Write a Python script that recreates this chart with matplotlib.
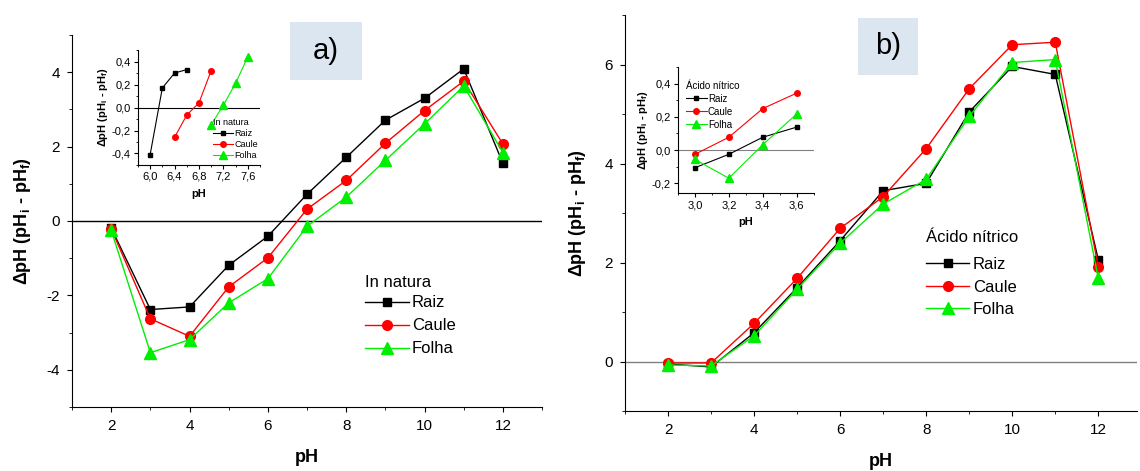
import matplotlib
matplotlib.use("Agg")
import matplotlib.pyplot as plt
from matplotlib.ticker import MultipleLocator, FuncFormatter
from matplotlib.patches import Rectangle

plt.rcParams['font.family'] = ['Liberation Sans', 'DejaVu Sans']
plt.rcParams['axes.unicode_minus'] = False
plt.rcParams['mathtext.fontset'] = 'custom'
plt.rcParams['mathtext.rm'] = 'Liberation Sans:bold'
plt.rcParams['mathtext.bf'] = 'Liberation Sans:bold'
plt.rcParams['mathtext.it'] = 'Liberation Sans:bold'
plt.rcParams['mathtext.default'] = 'bf'

# ---- data: panel a (In natura) ----
ph_main = [2, 3, 4, 5, 6, 7, 8, 9, 10, 11, 12]
a_raiz = [-0.19, -2.38, -2.31, -1.19, -0.41, 0.72, 1.71, 2.71, 3.30, 4.09, 1.55]
a_caule = [-0.21, -2.63, -3.10, -1.77, -0.99, 0.32, 1.09, 2.09, 2.97, 3.76, 2.07]
a_folha = [-0.25, -3.54, -3.19, -2.20, -1.55, -0.14, 0.64, 1.63, 2.61, 3.63, 1.84]

# inset a
ia_raiz_x = [6.0, 6.2, 6.4, 6.6]
ia_raiz_y = [-0.41, 0.17, 0.30, 0.33]
ia_caule_x = [6.4, 6.6, 6.8, 7.0]
ia_caule_y = [-0.26, -0.066, 0.04, 0.32]
ia_folha_x = [7.0, 7.2, 7.4, 7.6]
ia_folha_y = [-0.15, 0.02, 0.21, 0.44]

# ---- data: panel b (Ácido nítrico) ----
b_raiz = [-0.05, -0.11, 0.58, 1.49, 2.44, 3.45, 3.60, 5.04, 5.96, 5.80, 2.06]
b_caule = [-0.03, -0.03, 0.77, 1.68, 2.69, 3.33, 4.30, 5.51, 6.40, 6.45, 1.91]
b_folha = [-0.07, -0.09, 0.52, 1.46, 2.39, 3.18, 3.68, 4.95, 6.04, 6.10, 1.68]

# inset b
ib_x = [3.0, 3.2, 3.4, 3.6]
ib_raiz = [-0.107, -0.026, 0.077, 0.138]
ib_caule = [-0.026, 0.077, 0.25, 0.343]
ib_folha = [-0.057, -0.17, 0.032, 0.217]

series_names = ['Raiz', 'Caule', 'Folha']
colors = ['black', '#ff0000', '#00ee00']
markers = ['s', 'o', '^']
msizes = [6, 7, 8]

ylabel = r'$\Delta$pH (pH$_i$ - pH$_f$)'

fig = plt.figure(figsize=(11.4, 4.71), dpi=100)

comma = FuncFormatter(lambda v, p: ('%.1f' % v).replace('.', ','))


def style_main(ax, lp):
    ax.patch.set_alpha(0)
    for s in ['top', 'right']:
        ax.spines[s].set_visible(False)
    ax.tick_params(which='major', direction='out', length=3.5, labelsize=11, pad=5)
    ax.tick_params(which='minor', direction='out', length=2.5)
    ax.xaxis.set_major_locator(MultipleLocator(2))
    ax.xaxis.set_minor_locator(MultipleLocator(1))
    ax.yaxis.set_major_locator(MultipleLocator(2))
    ax.yaxis.set_minor_locator(MultipleLocator(1))
    ax.set_xlabel('pH', fontsize=13, fontweight='bold', labelpad=12)
    ax.set_ylabel(ylabel, fontsize=13, fontweight='bold', labelpad=lp)


def style_inset(ax):
    for s in ['top', 'right']:
        ax.spines[s].set_visible(False)
    ax.tick_params(which='major', direction='out', length=3, labelsize=8, pad=2)
    ax.tick_params(which='minor', direction='out', length=1.5)
    ax.xaxis.set_major_formatter(comma)
    ax.yaxis.set_major_formatter(comma)
    ax.set_xlabel('pH', fontsize=8, fontweight='bold', labelpad=5)
    ax.set_ylabel(ylabel, fontsize=8, fontweight='bold', labelpad=1)


def label_box(txt, x, y, w, h):
    r = Rectangle((x, y), w, h, transform=fig.transFigure, facecolor='#dce6f0',
                  edgecolor='none', zorder=5)
    fig.add_artist(r)
    fig.text(x + w / 2, y + h / 2, txt, fontsize=21, ha='center', va='center', zorder=6)


# ---------- Panel a ----------
axa = fig.add_axes([0.0632, 0.1359, 0.4123, 0.7898])
for ys, n, c, m, ms in zip([a_raiz, a_caule, a_folha], series_names, colors, markers, msizes):
    axa.plot(ph_main, ys, color=c, marker=m, markersize=ms, lw=1, label=n)
axa.axhline(0, color='black', lw=1, zorder=0)
axa.set_xlim(1, 13)
axa.set_ylim(-5, 5)
style_main(axa, 10)
leg = axa.legend(title='In natura', loc='upper left', bbox_to_anchor=(0.61, 0.373),
                 frameon=False, fontsize=12, title_fontsize=12, handlelength=2.6,
                 borderaxespad=0, labelspacing=0.48, handletextpad=0.2)
leg._legend_box.align = 'left'
leg._legend_box.sep = 4

ina = fig.add_axes([0.121, 0.6497, 0.107, 0.244])
for xs, ys, n, c, m, ms in zip([ia_raiz_x, ia_caule_x, ia_folha_x],
                               [ia_raiz_y, ia_caule_y, ia_folha_y],
                               series_names, colors, markers, [3.5, 4, 6]):
    ina.plot(xs, ys, color=c, marker=m, markersize=ms, lw=0.8, label=n)
ina.axhline(0, color='black', lw=0.8, zorder=0)
ina.set_xlim(5.8, 7.8)
ina.set_ylim(-0.5, 0.5)
ina.xaxis.set_major_locator(MultipleLocator(0.4))
ina.xaxis.set_minor_locator(MultipleLocator(0.2))
ina.yaxis.set_major_locator(MultipleLocator(0.2))
ina.yaxis.set_minor_locator(MultipleLocator(0.1))
style_inset(ina)
lg = ina.legend(title='In natura', loc='lower right', frameon=False, fontsize=6.5,
                title_fontsize=6.5, handlelength=2.2, borderaxespad=0.1,
                labelspacing=0.25, handletextpad=0.1, bbox_to_anchor=(1.02, 0.0))
lg._legend_box.align = 'left'

label_box('a)', 290 / 1140, 1 - 80 / 471, 72 / 1140, 58 / 471)

# ---------- Panel b ----------
axb = fig.add_axes([625 / 1140, 1 - 411 / 471, 512 / 1140, 396 / 471])
for ys, n, c, m, ms in zip([b_raiz, b_caule, b_folha], series_names, colors, markers, msizes):
    axb.plot(ph_main, ys, color=c, marker=m, markersize=ms, lw=1, label=n)
axb.axhline(0, color='#808080', lw=1, zorder=0)
axb.set_xlim(1, 12.9)
axb.set_ylim(-1, 7)
style_main(axb, 12)
leg = axb.legend(title='Ácido nítrico', loc='upper left', bbox_to_anchor=(0.575, 0.475),
                 frameon=False, fontsize=12, title_fontsize=12, handlelength=2.6,
                 borderaxespad=0, labelspacing=0.45, handletextpad=0.2)
leg._legend_box.align = 'left'
leg._legend_box.sep = 9

inb = fig.add_axes([0.5947, 0.590, 0.119, 0.2675])
for ys, n, c, m, ms in zip([ib_raiz, ib_caule, ib_folha], series_names, colors, markers, [3.5, 4, 6]):
    inb.plot(ib_x, ys, color=c, marker=m, markersize=ms, lw=0.8, label=n)
inb.axhline(0, color='#808080', lw=0.8, zorder=0)
inb.set_xlim(2.9, 3.7)
inb.set_ylim(-0.26, 0.5)
inb.xaxis.set_major_locator(MultipleLocator(0.2))
inb.xaxis.set_minor_locator(MultipleLocator(0.1))
inb.yaxis.set_major_locator(MultipleLocator(0.2))
inb.yaxis.set_minor_locator(MultipleLocator(0.1))
style_inset(inb)
lg = inb.legend(title='Ácido nítrico', loc='upper left', frameon=False, fontsize=7,
                title_fontsize=7, handlelength=2.2, borderaxespad=0.1,
                labelspacing=0.3, handletextpad=0.1, bbox_to_anchor=(0.02, 0.93))
lg._legend_box.align = 'left'

label_box('b)', 858 / 1140, 1 - 75 / 471, 60 / 1140, 57 / 471)

fig.savefig('out.png', dpi=100)
